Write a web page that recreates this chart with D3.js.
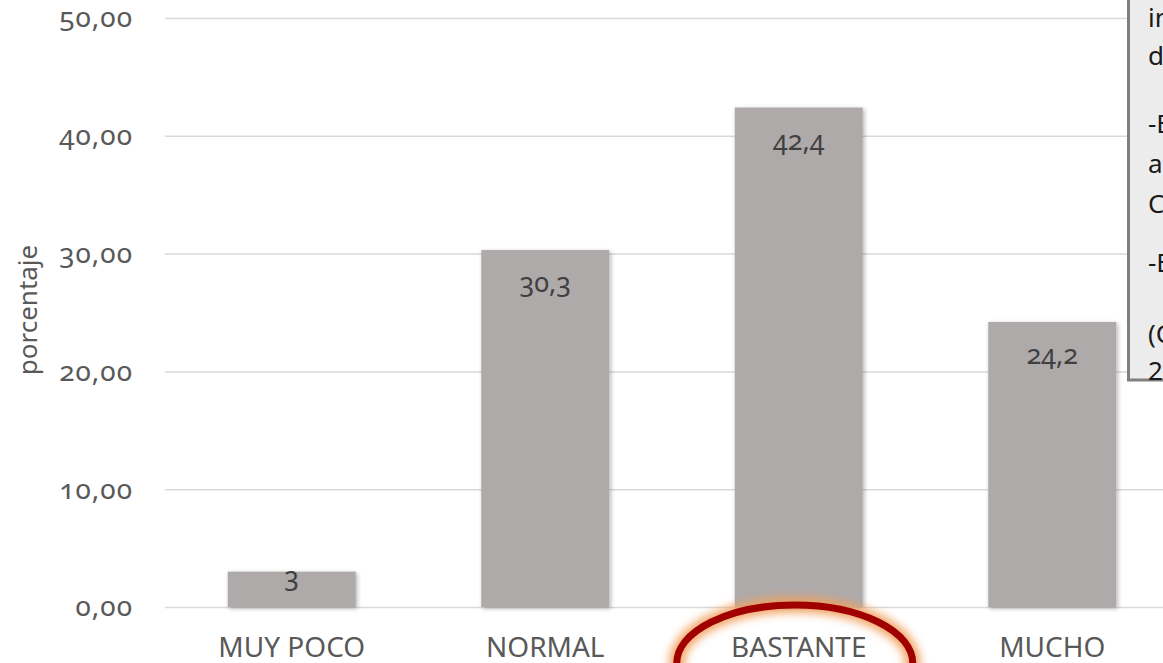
<!DOCTYPE html>
<html>
<head>
<meta charset="utf-8">
<script src="https://cdn.jsdelivr.net/npm/d3@7"></script>
<style>
    html, body { margin: 0; padding: 0; background: #ffffff; overflow: hidden; }
    svg { display: block; }
</style>
</head>
<body>
<svg id="chart" width="1163" height="663"></svg>
<script>
// Chart data
const categories = ['MUY POCO', 'NORMAL', 'BASTANTE', 'MUCHO'];
const values = [3, 30.3, 42.4, 24.2];
const valueLabels = ['3', '30,3', '42,4', '24,2'];
const yTicks = [0, 10, 20, 30, 40, 50];
const axisTitle = 'porcentaje';
const highlighted = 'BASTANTE';
// side note box, only the first letters fit in the window
const boxLines = ['indicadores', 'de', '-El', 'a', 'C', '-E', '(C', '2'];
const boxBaselines = [27, 65, 133, 173, 213, 272, 343, 380];

const svg = d3.select('#chart');
const W = 1163, H = 663;

const x = d3.scaleBand()
    .domain(categories)
    .range([165, 1179])
    .paddingInner(0.495)
    .paddingOuter(0.2475);

const y = d3.scaleLinear()
    .domain([0, 50])
    .range([607, 18]);

const defs = svg.append('defs');

// soft shadow under the bars
const shadow = defs.append('filter')
    .attr('id', 'barShadow')
    .attr('x', '-10%').attr('y', '-10%')
    .attr('width', '130%').attr('height', '130%');
shadow.append('feDropShadow')
    .attr('dx', 1.5).attr('dy', 1.5)
    .attr('stdDeviation', 2)
    .attr('flood-color', '#000')
    .attr('flood-opacity', 0.3);

// orange glow round the red ellipse
const glow = defs.append('filter')
    .attr('id', 'glow')
    .attr('x', '-20%').attr('y', '-40%')
    .attr('width', '140%').attr('height', '180%');
glow.append('feGaussianBlur').attr('stdDeviation', 4);

// Y axis with gridlines
const yAxis = svg.append('g')
    .attr('transform', 'translate(165,0)')
    .call(d3.axisLeft(y)
        .tickValues(yTicks)
        .tickSize(-(W - 165))
        .tickPadding(32)
        .tickFormat(d => d3.format('.2f')(d).replace('.', ',')));
yAxis.select('.domain').remove();
yAxis.selectAll('line')
    .attr('stroke', '#d9d9d9')
    .attr('stroke-width', 1.5);
yAxis.selectAll('text')
    .attr('fill', '#595959')
    .attr('font-family', '"Noto Sans", sans-serif')
    .attr('font-size', 28)
    .attr('letter-spacing', 1)
    .style('font-variant-numeric', 'oldstyle-nums');

// axis title
svg.append('text')
    .attr('transform', 'translate(37,310) rotate(-90)')
    .attr('text-anchor', 'middle')
    .attr('fill', '#595959')
    .attr('font-family', '"Noto Sans", sans-serif')
    .attr('font-size', 26)
    .text(axisTitle);

// Bars
svg.append('g')
    .selectAll('rect')
    .data(values)
    .enter().append('rect')
    .attr('x', (d, i) => x(categories[i]))
    .attr('y', d => y(d))
    .attr('width', x.bandwidth())
    .attr('height', d => y(0) - y(d))
    .attr('fill', '#aeaaaa')
    .attr('filter', 'url(#barShadow)');

// value labels inside the top of each bar (short bars keep them just above the base)
svg.append('g')
    .selectAll('text')
    .data(values)
    .enter().append('text')
    .attr('x', (d, i) => x(categories[i]) + x.bandwidth() / 2)
    .attr('y', d => Math.min(y(d) + 42, y(0) - 21))
    .attr('text-anchor', 'middle')
    .attr('fill', '#404040')
    .attr('font-family', '"Noto Sans", sans-serif')
    .attr('font-size', 27)
    .style('font-variant-numeric', 'oldstyle-nums')
    .text((d, i) => valueLabels[i]);

// X axis labels
const xAxis = svg.append('g')
    .attr('transform', `translate(0,${y(0)})`)
    .call(d3.axisBottom(x).tickSize(0).tickPadding(30));
xAxis.select('.domain').remove();
xAxis.selectAll('text')
    .attr('fill', '#595959')
    .attr('font-family', '"Noto Sans", sans-serif')
    .attr('font-size', 28);

// red ellipse round the highlighted category
const cx = x(highlighted) + x.bandwidth() / 2 - 4;
svg.append('ellipse')
    .attr('cx', cx).attr('cy', 663)
    .attr('rx', 118).attr('ry', 58)
    .attr('fill', 'none')
    .attr('stroke', '#f2a15f')
    .attr('stroke-width', 16)
    .attr('opacity', 0.9)
    .attr('filter', 'url(#glow)');
svg.append('ellipse')
    .attr('cx', cx).attr('cy', 663)
    .attr('rx', 118).attr('ry', 58)
    .attr('fill', 'none')
    .attr('stroke', '#a00000')
    .attr('stroke-width', 7);

// note box on the right edge
const box = svg.append('g');
box.append('rect')
    .attr('x', 1128.5).attr('y', -10)
    .attr('width', 100).attr('height', 390)
    .attr('fill', '#ececec')
    .attr('stroke', '#7f7f7f')
    .attr('stroke-width', 3);
box.selectAll('text')
    .data(boxLines)
    .enter().append('text')
    .attr('x', 1148)
    .attr('y', (d, i) => boxBaselines[i])
    .attr('fill', '#1a1a1a')
    .attr('font-family', '"Noto Sans", sans-serif')
    .attr('font-size', 26)
    .text(d => d);
</script>
</body>
</html>
